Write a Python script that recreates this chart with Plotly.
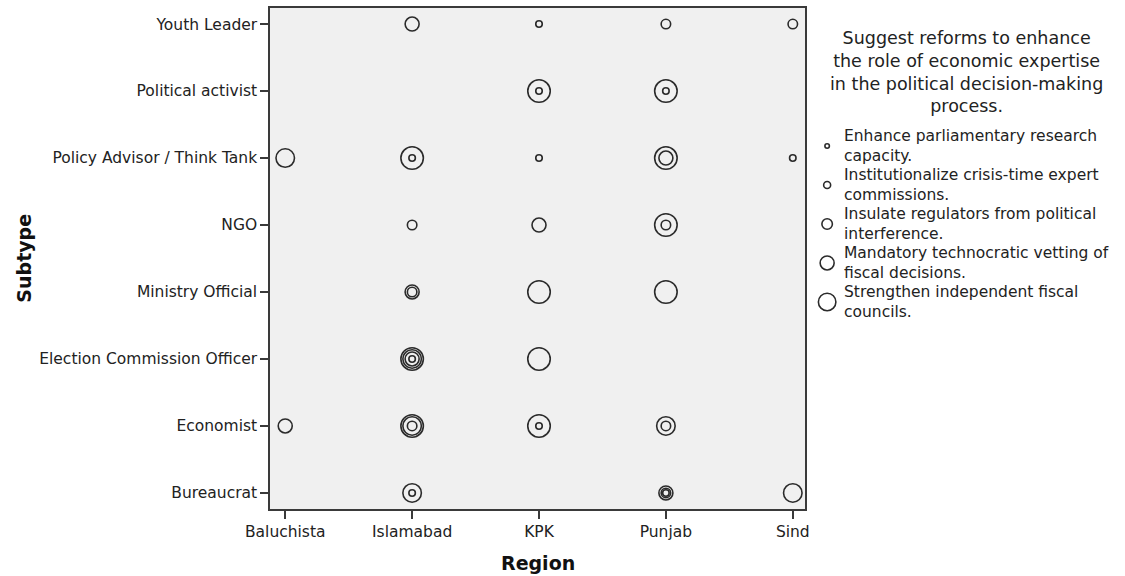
import plotly.graph_objects as go

# ---------------- data ----------------
regions = ["Baluchista", "Islamabad", "KPK", "Punjab", "Sind"]
subtypes = ["Bureaucrat", "Economist", "Election Commission Officer", "Ministry Official",
            "NGO", "Policy Advisor / Think Tank", "Political activist", "Youth Leader"]

legend_title = "Suggest reforms to enhance<br>the role of economic expertise<br>in the political decision-making<br>process."
responses = [
    "Enhance parliamentary research<br>capacity.",
    "Institutionalize crisis-time expert<br>commissions.",
    "Insulate regulators from political<br>interference.",
    "Mandatory technocratic vetting of<br>fiscal decisions.",
    "Strengthen independent fiscal<br>councils.",
]

# cells (region, subtype) in which each response occurs
enhance_x = ["KPK", "KPK", "Punjab", "Islamabad", "KPK", "Sind", "Islamabad", "KPK", "Islamabad", "Punjab"]
enhance_y = ["Youth Leader", "Political activist", "Political activist", "Policy Advisor / Think Tank",
             "Policy Advisor / Think Tank", "Policy Advisor / Think Tank", "Election Commission Officer",
             "Economist", "Bureaucrat", "Bureaucrat"]

institution_x = ["Punjab", "Sind", "Islamabad", "Punjab", "Islamabad", "Islamabad", "Punjab", "Punjab"]
institution_y = ["Youth Leader", "Youth Leader", "NGO", "NGO", "Ministry Official", "Economist",
                 "Economist", "Bureaucrat"]

insulate_x = ["Islamabad", "Punjab", "KPK", "Islamabad", "Islamabad", "Baluchista", "Punjab"]
insulate_y = ["Youth Leader", "Policy Advisor / Think Tank", "NGO", "Ministry Official",
              "Election Commission Officer", "Economist", "Bureaucrat"]

mandatory_x = ["Baluchista", "Islamabad", "Islamabad", "Punjab", "Islamabad", "Sind"]
mandatory_y = ["Policy Advisor / Think Tank", "Election Commission Officer", "Economist", "Economist",
               "Bureaucrat", "Bureaucrat"]

strengthen_x = ["KPK", "Punjab", "Islamabad", "Punjab", "Punjab", "KPK", "Punjab", "Islamabad", "KPK",
                "Islamabad", "KPK"]
strengthen_y = ["Political activist", "Political activist", "Policy Advisor / Think Tank",
                "Policy Advisor / Think Tank", "NGO", "Ministry Official", "Ministry Official",
                "Election Commission Officer", "Election Commission Officer", "Economist", "Economist"]

series_x = [enhance_x, institution_x, insulate_x, mandatory_x, strengthen_x]
series_y = [enhance_y, institution_y, insulate_y, mandatory_y, strengthen_y]
legend_index = [0, 1, 2, 3, 4]

# ---------------- style ----------------
FONT = "DejaVu Sans"
INK = "#2b2b2b"
AXC = "#3a3a3a"
sizes = [6.5, 9.5, 14, 18.5, 22.5]
legend_sizes = [4.5, 7, 10.5, 14, 17.5]

W, H = 1125, 576
L, T, B = 270, 8, 67
plot_right = 808
legend_left = 815
pw = W - L

fig = go.Figure()

for k in range(5):
    fig.add_trace(go.Scatter(
        x=series_x[k], y=series_y[k], mode="markers",
        marker=dict(symbol="circle-open", size=sizes[k], color=INK, line=dict(width=1.6, color=INK)),
        showlegend=False, hoverinfo="skip", xaxis="x", yaxis="y",
    ))

# legend drawn in its own small axes
for k in range(5):
    fig.add_trace(go.Scatter(
        x=[0], y=[legend_index[k]], mode="markers",
        marker=dict(symbol="circle-open", size=legend_sizes[k], color=INK, line=dict(width=1.6, color=INK)),
        showlegend=False, hoverinfo="skip", xaxis="x2", yaxis="y2",
    ))

x2_span = W - legend_left
x2_range = [-0.05, 1.0]
px_per_x2 = x2_span / (x2_range[1] - x2_range[0])

annotations = []
for k in range(5):
    annotations.append(dict(
        xref="x2", yref="y2", x=0.05, y=legend_index[k], text=responses[k],
        showarrow=False, xanchor="left", yanchor="middle", align="left",
        font=dict(family=FONT, size=15.5, color="#222222"),
    ))

annotations.append(dict(
    xref="x2", yref="y2", x=(970 - legend_left) / px_per_x2 + x2_range[0], y=-1.9,
    text=legend_title, showarrow=False, xanchor="center", yanchor="middle", align="center",
    font=dict(family=FONT, size=17.5, color="#222222"),
))

annotations.append(dict(
    xref="paper", yref="paper", x=(539 - L) / pw, y=-(563 - (H - B)) / (H - B - T),
    text="<b>Region</b>", showarrow=False, xanchor="center", yanchor="middle",
    font=dict(family=FONT, size=19, color="#111111"),
))
annotations.append(dict(
    xref="paper", yref="paper", x=(22 - L) / pw, y=0.5,
    text="<b>Subtype</b>", showarrow=False, xanchor="center", yanchor="middle", textangle=-90,
    font=dict(family=FONT, size=19, color="#111111"),
))

axis_common = dict(showgrid=False, zeroline=False, showline=True, mirror=True,
                   linecolor=AXC, linewidth=1.5, ticks="outside", ticklen=8, tickwidth=1.5,
                   tickcolor=AXC, tickfont=dict(family=FONT, size=15.5, color="#222222"))

fig.update_layout(
    width=W, height=H,
    margin=dict(l=L, r=0, t=T, b=B, pad=0),
    paper_bgcolor="white", plot_bgcolor="white",
    showlegend=False,
    xaxis=dict(type="category", categoryorder="array", categoryarray=regions,
               range=[-0.12, 4.10], domain=[0, (plot_right - L) / pw], anchor="y", **axis_common),
    yaxis=dict(type="category", categoryorder="array", categoryarray=subtypes,
               range=[-0.24, 7.24], domain=[0, 1], anchor="x", **axis_common),
    xaxis2=dict(range=x2_range, domain=[(legend_left - L) / pw, 1], anchor="y2", visible=False),
    yaxis2=dict(range=[9.308, -3.538], domain=[0, 1], anchor="x2", visible=False),
    shapes=[dict(type="rect", xref="x domain", yref="y domain", x0=0, x1=1, y0=0, y1=1,
                 fillcolor="#f0f0f0", line=dict(width=0), layer="below")],
    annotations=annotations,
)

fig.write_html("out.html")
